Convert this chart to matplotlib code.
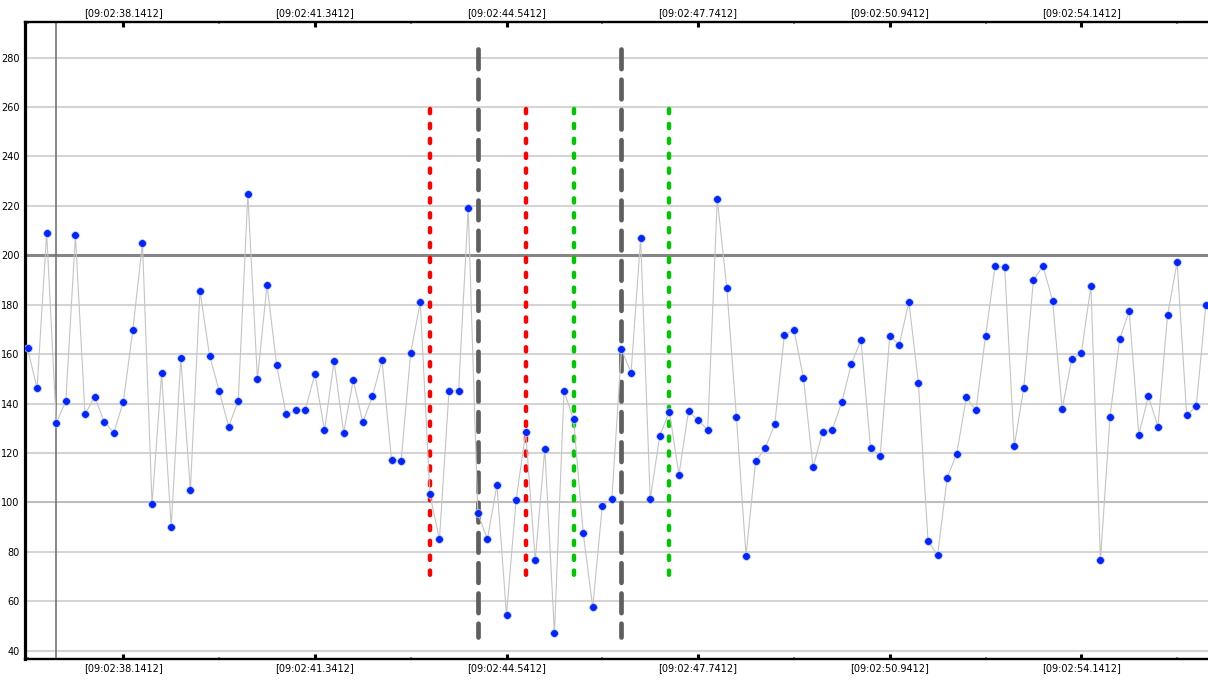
import matplotlib
matplotlib.use("Agg")
import matplotlib.pyplot as plt
from matplotlib.ticker import FixedLocator, FuncFormatter

# tiempo en segundos despues de las 09:02:00
t_inicio = 36.5412
periodo = 0.16

valores = [162.3, 146.2, 209.2, 132.1, 140.9, 208.0, 135.6, 142.8, 132.7, 128.2,
           140.6, 169.9, 205.1, 99.2, 152.2, 90.1, 158.4, 105.0, 185.7, 159.4,
           145.2, 130.6, 141.2, 224.7, 149.9, 188.1, 155.7, 135.6, 137.2, 137.5,
           152.0, 129.1, 157.2, 128.1, 149.5, 132.4, 142.9, 157.6, 117.1, 116.9,
           160.5, 181.0, 103.2, 85.0, 145.1, 145.2, 219.2, 95.8, 85.0, 107.0,
           54.5, 100.9, 128.3, 76.5, 121.7, 47.0, 144.9, 133.6, 87.7, 57.5,
           98.7, 101.4, 161.9, 152.4, 206.9, 101.2, 127.0, 136.7, 111.2, 137.0,
           133.2, 129.4, 222.7, 186.6, 134.4, 78.4, 116.6, 121.9, 131.6, 167.6,
           169.9, 150.2, 114.2, 128.6, 129.4, 140.6, 156.1, 165.6, 122.1, 118.9,
           167.2, 163.8, 181.1, 148.2, 84.2, 78.7, 110.0, 119.7, 142.5, 137.2,
           167.2, 195.7, 195.1, 122.7, 146.4, 189.9, 195.7, 181.6, 137.7, 158.0,
           160.5, 187.4, 76.7, 134.7, 166.1, 177.3, 127.4, 142.9, 130.6, 175.7,
           197.2, 135.2, 139.0, 179.8]

tiempos = [t_inicio + i * periodo for i in range(len(valores))]

cursor = 37.0212
marcas_rojas = [43.2612, 44.8612]
marcas_grises = [44.0612, 46.4612]
marcas_verdes = [45.6612, 47.2612]

ticks_mayores = [38.1412, 41.3412, 44.5412, 47.7412, 50.9412, 54.1412]
ticks_menores = [36.5412, 39.7412, 42.9412, 46.1412, 49.3412, 52.5412, 55.7412]
ticks_y = [40, 60, 80, 100, 120, 140, 160, 180, 200, 220, 240, 260, 280]


def etiqueta_tiempo(s, pos):
    return f"[09:02:{s:07.4f}]"


def dibujar_rejilla(ax):
    for v in ticks_y:
        if v == 200:
            ax.axhline(v, color="#858585", lw=2.2, zorder=1)
        elif v == 100:
            ax.axhline(v, color="#bdbdbd", lw=1.5, zorder=1)
        else:
            ax.axhline(v, color="#d4d4d4", lw=1.5, zorder=1)


def dibujar_marcas(ax):
    # se dibujan de arriba hacia abajo para que el primer trazo quede arriba
    for t in marcas_grises:
        ax.plot([t, t], [283.3, 45.5], color="#5f5f5f", lw=3.4,
                linestyle=(0, (4.15, 2.25)), dash_capstyle="round", zorder=3)
    for t in marcas_rojas:
        ax.plot([t, t], [259.3, 66.8], color="#ff0000", lw=3.2,
                linestyle=(0, (0.95, 2.4)), dash_capstyle="round", zorder=3)
    for t in marcas_verdes:
        ax.plot([t, t], [259.3, 66.8], color="#00c800", lw=3.2,
                linestyle=(0, (0.95, 2.4)), dash_capstyle="round", zorder=3)


def main():
    fig = plt.figure(figsize=(12.08, 6.82), dpi=100)
    ax = fig.add_axes([25 / 1208, 23 / 682, 1183 / 1208, 637 / 682])

    dibujar_rejilla(ax)
    ax.axvline(cursor, color="#6a6a6a", lw=1.1, zorder=2)
    dibujar_marcas(ax)

    ax.plot(tiempos, valores, color="#c4c4c4", lw=0.8, zorder=4)
    ax.plot(tiempos, valores, linestyle="none", marker="o", markersize=5.6,
            markerfacecolor="#0025ff", markeredgecolor="#c8d0ff",
            markeredgewidth=0.5, zorder=5)

    ax.set_xlim(36.4994, 56.257)
    ax.set_ylim(36.6, 294.4)

    ax.xaxis.set_major_locator(FixedLocator(ticks_mayores))
    ax.xaxis.set_minor_locator(FixedLocator(ticks_menores))
    ax.xaxis.set_major_formatter(FuncFormatter(etiqueta_tiempo))
    ax.set_yticks(ticks_y)

    ax.tick_params(axis="x", which="major", direction="in", length=3.3, width=2.2,
                   color="black", top=True, bottom=True, labeltop=True,
                   labelbottom=True, labelsize=7, pad=3)
    ax.tick_params(axis="x", which="minor", direction="in", length=1.6, width=1.4,
                   color="#8a8a8a", top=True, bottom=True)
    ax.tick_params(axis="y", length=0, labelsize=7, pad=4)

    ax.spines["right"].set_visible(False)
    ax.spines["left"].set_linewidth(2.3)
    ax.spines["top"].set_linewidth(1.7)
    ax.spines["bottom"].set_linewidth(1.7)

    fig.savefig("out.png", dpi=100)


if __name__ == "__main__":
    main()
